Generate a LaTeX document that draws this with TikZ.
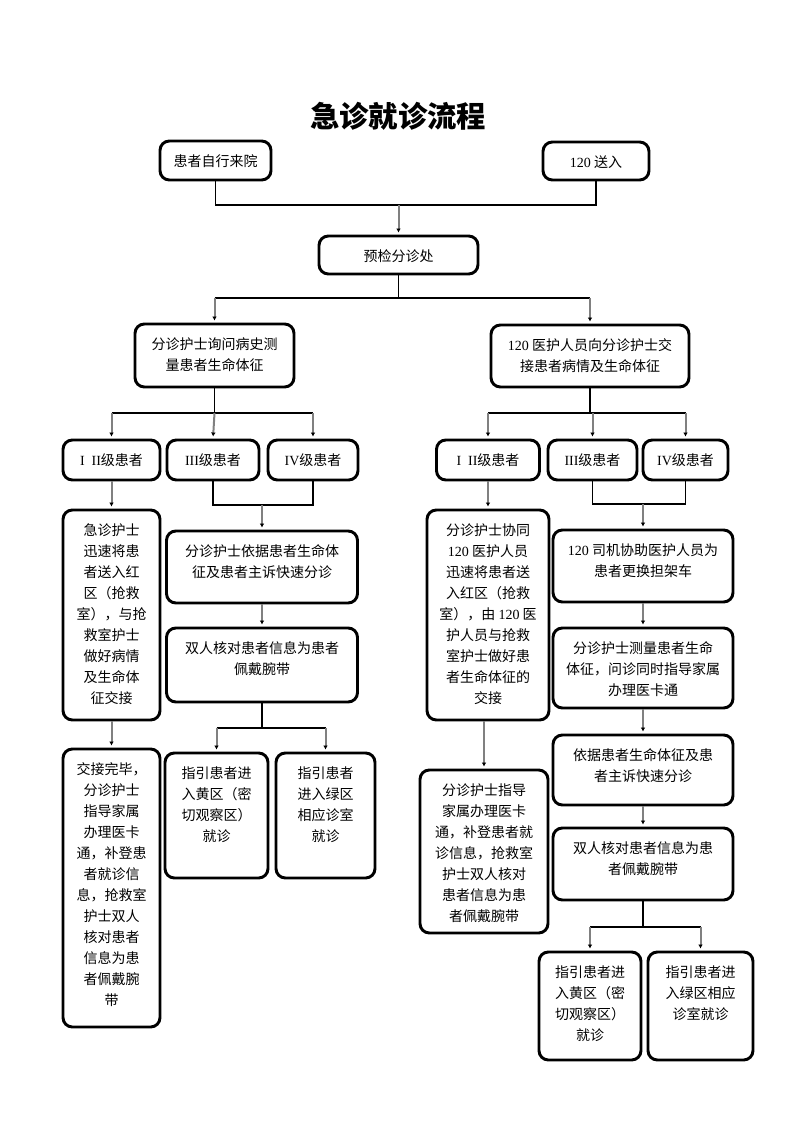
\documentclass[tikz,border=0pt]{standalone}
\usepackage{fontspec}
\setmainfont{Noto Sans CJK SC}
\newfontfamily\latfont{Liberation Serif}
\usetikzlibrary{arrows.meta}
% 1px of the page = 0.75pt
\newdimen\px \px=0.75pt
\newcommand{\lat}[1]{{\latfont #1}}
% box text: width, height (px), lines from the top
\newcommand{\cell}[3]{%
  \parbox[c][#2\px][t]{#1\px}{\centering\fontsize{10.5pt}{15.75pt}\selectfont
    \vspace*{11\px}\strut#3}}
\tikzset{
  box/.style={draw, line width=2.2pt, rounded corners=7pt, inner sep=0pt},
  link/.style={draw=black, line width=1pt},
  flow/.style={draw=gray, line width=1.5pt, shorten >=1.5pt,
    -{Latex[black,length=3pt,width=3.5pt]}},
}
\begin{document}
\begin{tikzpicture}[x=0.75pt, y=-0.75pt]
  \useasboundingbox (0,0) rectangle (793,1122);

  \node (title) at (398,116) {\fontsize{22pt}{26pt}\selectfont\bfseries 急诊就诊流程};

  % arrival
  \node[box] (self)   at (215.5,160.5) {\cell{111}{39}{患者自行来院}};
  \node[box] (amb)    at (596,161)     {\cell{106}{38}{\lat{120} 送入}};
  \node[box] (triage) at (398.5,255)   {\cell{159}{38}{预检分诊处}};
  \node[box] (askL)   at (214.5,355.5) {\cell{159}{63}{分诊护士询问病史测\\量患者生命体征}};
  \node[box] (handR)  at (590,356)     {\cell{198}{62}{\lat{120} 医护人员向分诊护士交\\接患者病情及生命体征}};

  % levels
  \node[box] (gL12) at (111.5,460) {\cell{97}{40}{\lat{I~~II}级患者}};
  \node[box] (gL3)  at (213,460)   {\cell{92}{40}{\lat{III}级患者}};
  \node[box] (gL4)  at (313,460)   {\cell{90}{40}{\lat{IV}级患者}};
  \node[box] (gR12) at (488,460)   {\cell{103}{40}{\lat{I~~II}级患者}};
  \node[box] (gR3)  at (592.5,460) {\cell{89}{40}{\lat{III}级患者}};
  \node[box] (gR4)  at (685.5,460) {\cell{85}{40}{\lat{IV}级患者}};

  % left branch
  \node[box] (redL)  at (111.5,615) {\cell{97}{210}{急诊护士\\迅速将患\\者送入红\\区（抢救\\室），与抢\\救室护士\\做好病情\\及生命体\\征交接}};
  \node[box] (doneL) at (111.5,888) {\cell{97}{278}{交接完毕，\\分诊护士\\指导家属\\办理医卡\\通，补登患\\者就诊信\\息，抢救室\\护士双人\\核对患者\\信息为患\\者佩戴腕\\带}};
  \node[box] (sortL) at (262,567)   {\cell{191}{72}{分诊护士依据患者生命体\\征及患者主诉快速分诊}};
  \node[box] (bandL) at (262,665)   {\cell{191}{74}{双人核对患者信息为患者\\佩戴腕带}};
  \node[box] (yelL)  at (216.5,815.5) {\cell{103}{125}{指引患者进\\入黄区（密\\切观察区）\\就诊}};
  \node[box] (grnL)  at (325.5,815.5) {\cell{99}{125}{指引患者\\进入绿区\\相应诊室\\就诊}};

  % right branch
  \node[box] (redR)    at (488,615)   {\cell{122}{210}{分诊护士协同\\\lat{120} 医护人员\\迅速将患者送\\入红区（抢救\\室），由 \lat{120} 医\\护人员与抢救\\室护士做好患\\者生命体征的\\交接}};
  \node[box] (guideR)  at (484,851.5) {\cell{128}{163}{分诊护士指导\\家属办理医卡\\通，补登患者就\\诊信息，抢救室\\护士双人核对\\患者信息为患\\者佩戴腕带}};
  \node[box] (driverR) at (643,566)   {\cell{180}{72}{\lat{120} 司机协助医护人员为\\患者更换担架车}};
  \node[box] (measR)   at (643,668)   {\cell{180}{80}{分诊护士测量患者生命\\体征，问诊同时指导家属\\办理医卡通}};
  \node[box] (sortR)   at (643,770)   {\cell{180}{70}{依据患者生命体征及患\\者主诉快速分诊}};
  \node[box] (bandR)   at (643,864)   {\cell{180}{72}{双人核对患者信息为患\\者佩戴腕带}};
  \node[box] (yelR)    at (590,1006)  {\cell{102}{108}{指引患者进\\入黄区（密\\切观察区）\\就诊}};
  \node[box] (grnR)    at (700.5,1006) {\cell{105}{108}{指引患者进\\入绿区相应\\诊室就诊}};

  % junctions
  \coordinate (j1) at (398.5,205);
  \coordinate (j2) at (398.5,298);
  \coordinate (j3) at (214.5,413);
  \coordinate (j4) at (590,413);
  \coordinate (j5) at (262,505);
  \coordinate (j6) at (262,728);
  \coordinate (j7) at (643,504);
  \coordinate (j8) at (643,927);

  \draw[link] (self.south) |- (j1) -| (amb.south);
  \draw[flow] (j1) -- (triage.north);

  \draw[link] (triage.south) -- (j2);
  \draw[link] (askL.north |- j2) -- (handR.north |- j2);
  \draw[flow] (askL.north |- j2) -- (askL.north);
  \draw[flow] (handR.north |- j2) -- (handR.north);

  \draw[link] (askL.south) -- (j3);
  \draw[link] (gL12.north |- j3) -- (gL4.north |- j3);
  \draw[flow] (gL12.north |- j3) -- (gL12.north);
  \draw[flow] (j3) -- (gL3.north);
  \draw[flow] (gL4.north |- j3) -- (gL4.north);

  \draw[link] (handR.south) -- (j4);
  \draw[link] (gR12.north |- j4) -- (gR4.north |- j4);
  \draw[flow] (gR12.north |- j4) -- (gR12.north);
  \draw[flow] (gR3.north |- j4) -- (gR3.north);
  \draw[flow] (gR4.north |- j4) -- (gR4.north);

  \draw[flow] (gL12.south) -- (redL.north);
  \draw[flow] (redL.south) -- (doneL.north);
  \draw[link] (gL3.south) |- (j5) -| (gL4.south);
  \draw[flow] (j5) -- (sortL.north);
  \draw[flow] (sortL.south) -- (bandL.north);
  \draw[link] (bandL.south) -- (j6);
  \draw[link] (yelL.north |- j6) -- (grnL.north |- j6);
  \draw[flow] (yelL.north |- j6) -- (yelL.north);
  \draw[flow] (grnL.north |- j6) -- (grnL.north);

  \draw[flow] (gR12.south) -- (redR.north);
  \draw[flow] (redR.south -| guideR.north) -- (guideR.north);
  \draw[link] (gR3.south) |- (j7) -| (gR4.south);
  \draw[flow] (j7) -- (driverR.north);
  \draw[flow] (driverR.south) -- (measR.north);
  \draw[flow] (measR.south) -- (sortR.north);
  \draw[flow] (sortR.south) -- (bandR.north);
  \draw[link] (bandR.south) -- (j8);
  \draw[link] (yelR.north |- j8) -- (grnR.north |- j8);
  \draw[flow] (yelR.north |- j8) -- (yelR.north);
  \draw[flow] (grnR.north |- j8) -- (grnR.north);
\end{tikzpicture}
\end{document}
